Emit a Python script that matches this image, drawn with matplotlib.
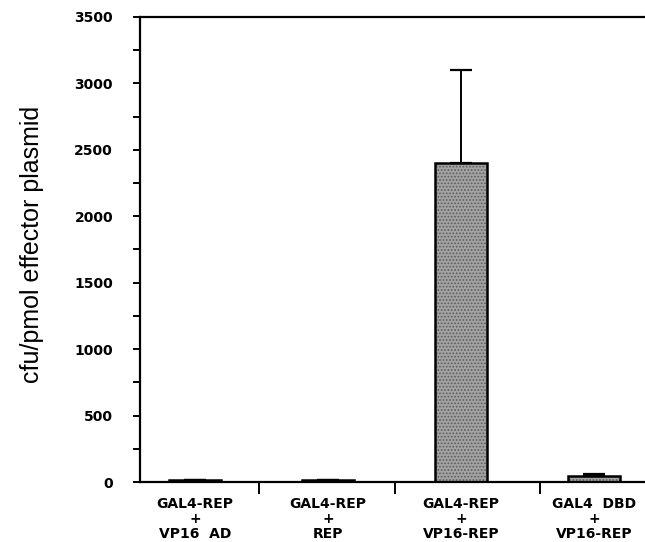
import matplotlib
matplotlib.use("Agg")
import matplotlib.pyplot as plt
from matplotlib.ticker import MultipleLocator, FixedLocator
import numpy as np

categories = ["GAL4-REP\n+\nVP16  AD", "GAL4-REP\n+\nREP", "GAL4-REP\n+\nVP16-REP", "GAL4  DBD\n+\nVP16-REP"]
values = [18, 18, 2400, 45]
err_upper = [0, 0, 700, 15]
yticks = [0, 500, 1000, 1500, 2000, 2500, 3000, 3500]
dividers = [0.48, 1.5, 2.59]

plt.rcParams['hatch.linewidth'] = 0.8

fig = plt.figure(figsize=(6.45, 5.42), dpi=100)
W, H = 645, 542
left, right, top, bottom = 139.5, 645, 17, 482
ax = fig.add_axes([left / W, 1 - bottom / H, (right - left) / W, (bottom - top) / H])

x = np.arange(len(categories))
width = 0.385
ax.bar(x, values, width=width, color='#a2a2a2', edgecolor='#5c5c5c', linewidth=0, hatch='.....', zorder=2)
ax.bar(x, values, width=width, fill=False, edgecolor='black', linewidth=1.8, zorder=3)
ax.errorbar(x, values, yerr=[np.zeros(len(values)), err_upper], fmt='none', ecolor='black',
            elinewidth=1.4, capsize=8, capthick=1.6, zorder=4)

ax.set_xlim(-0.417, 3.383)
ax.set_ylim(0, 3500)

ax.spines['right'].set_visible(False)
for s in ['left', 'top', 'bottom']:
    ax.spines[s].set_linewidth(1.6)

ax.set_yticks(yticks)
ax.yaxis.set_minor_locator(MultipleLocator(250))
ax.tick_params(axis='y', which='both', direction='out', length=5, width=1.4, pad=14)
for lab in ax.get_yticklabels():
    lab.set_fontweight('bold')
    lab.set_fontsize(10)
    lab.set_family('DejaVu Sans')

ax.set_xticks(x)
ax.set_xticklabels(categories, fontsize=10, fontweight='bold', family='DejaVu Sans', linespacing=1.1)
ax.tick_params(axis='x', which='major', length=0, pad=10.5)
ax.xaxis.set_minor_locator(FixedLocator(dividers))
ax.tick_params(axis='x', which='minor', direction='out', length=8.5, width=1.4)

ax.set_ylabel("cfu/pmol effector plasmid", fontsize=18, family='Liberation Sans', va='center')
ax.yaxis.set_label_coords(-0.2127, 0.51)

fig.savefig("out.png", dpi=100)
